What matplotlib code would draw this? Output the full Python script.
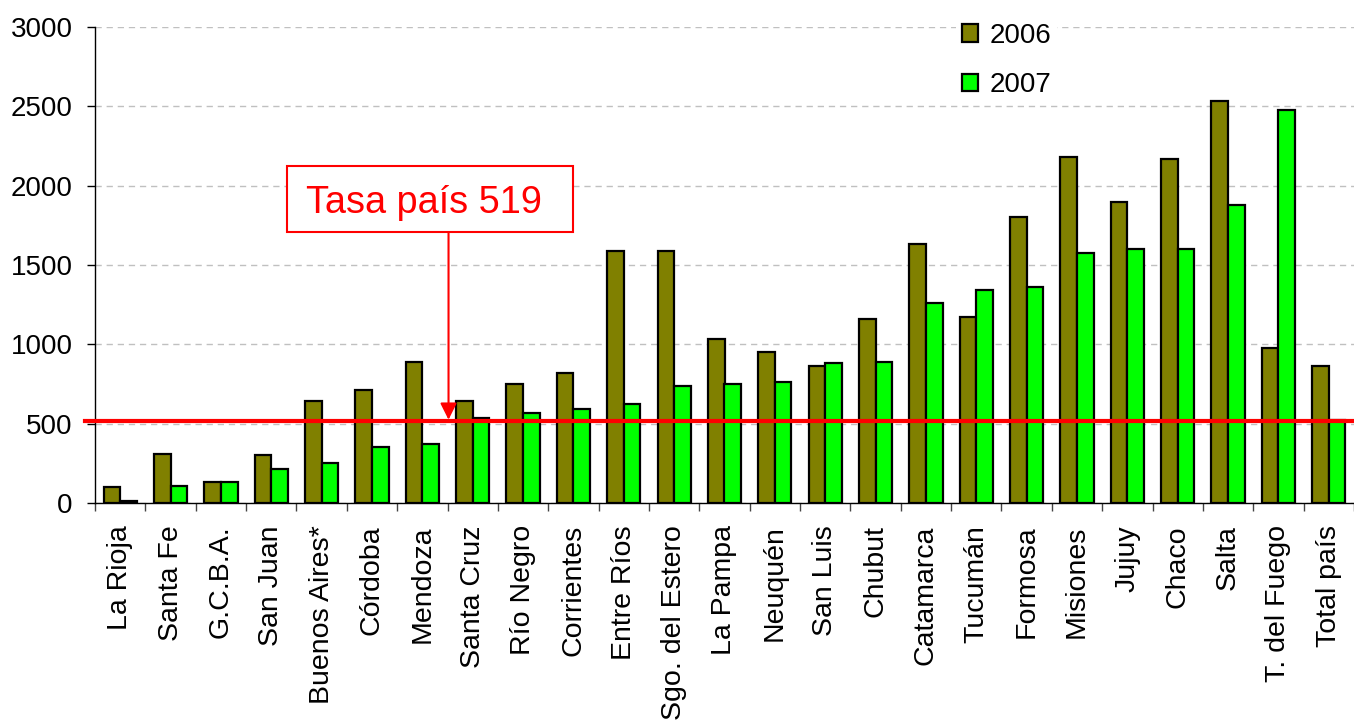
import matplotlib
matplotlib.use("Agg")
import matplotlib.pyplot as plt
import matplotlib.transforms as mtransforms
from matplotlib.patches import Rectangle
import numpy as np

plt.rcParams['font.family'] = ['Liberation Sans', 'DejaVu Sans']

provincias = ["La Rioja", "Santa Fe", "G.C.B.A.", "San Juan", "Buenos Aires*",
              "Córdoba", "Mendoza", "Santa Cruz", "Río Negro", "Corrientes",
              "Entre Ríos", "Sgo. del Estero", "La Pampa", "Neuquén", "San Luis",
              "Chubut", "Catamarca", "Tucumán", "Formosa", "Misiones", "Jujuy",
              "Chaco", "Salta", "T. del Fuego", "Total país"]
v2006 = [100, 310, 130, 300, 640, 710, 890, 640, 750, 820,
         1590, 1590, 1035, 950, 865, 1160, 1630, 1175, 1800, 2180,
         1900, 2170, 2535, 975, 865]
v2007 = [15, 110, 130, 215, 255, 355, 370, 535, 565, 595,
         625, 735, 750, 765, 880, 890, 1260, 1345, 1360, 1575,
         1600, 1600, 1880, 2480, 525]
tasa_pais = 519
series_labels = ["2006", "2007"]
yticks = [0, 500, 1000, 1500, 2000, 2500, 3000]

W, H = 1354, 724
fig = plt.figure(figsize=(W / 100, H / 100), dpi=100)
ax = fig.add_axes([95 / W, 1 - 503 / H, (W - 95) / W, (503 - 27) / H])

x = np.arange(len(provincias))
bw = 0.33
ax.bar(x - bw / 2, v2006, bw, color="#808000", edgecolor="black", linewidth=1.6,
       label=series_labels[0], zorder=3)
ax.bar(x + bw / 2, v2007, bw, color="#00FF00", edgecolor="black", linewidth=1.6,
       label=series_labels[1], zorder=3)

ax.set_xlim(-0.5, len(provincias) - 0.5)
ax.set_ylim(0, 3000)
ax.set_yticks(yticks)
ax.set_yticklabels([str(t) for t in yticks], fontsize=20)
ax.yaxis.grid(True, linestyle=(0, (4.5, 3.5)), color="#c0c0c0", linewidth=1, zorder=0)
ax.set_axisbelow(True)

ax.set_xticks(x)
ax.set_xticklabels(provincias, rotation=90, fontsize=20.5, va="top", ha="center")
ax.set_xticks(np.arange(-0.5, len(provincias), 1), minor=True)
ax.tick_params(axis="x", which="major", length=0, pad=16)
ax.tick_params(axis="x", which="minor", length=6, width=1, color="#444444")
ax.tick_params(axis="y", length=6, width=1, pad=10)

for s in ["top", "right"]:
    ax.spines[s].set_visible(False)
ax.spines["left"].set_linewidth(1)
ax.spines["bottom"].set_linewidth(1)

# reference line
trans = mtransforms.blended_transform_factory(ax.transAxes, ax.transData)
ax.plot([-10 / (W - 95), 1.0], [tasa_pais, tasa_pais], color="red", linewidth=3,
        transform=trans, clip_on=False, zorder=4)

# annotation box and arrow
arrow_x = 6.52
ax.annotate("", xy=(arrow_x, tasa_pais + 6), xytext=(arrow_x, 1700),
            arrowprops=dict(arrowstyle="-|>,head_length=0.5,head_width=0.25",
                            mutation_scale=20, color="red", linewidth=1.5,
                            shrinkA=0, shrinkB=0),
            zorder=5)
box_px = (287, 166, 573, 232)  # left, top, right, bottom in pixels
fig.patches.append(Rectangle((box_px[0] / W, 1 - box_px[3] / H),
                             (box_px[2] - box_px[0]) / W, (box_px[3] - box_px[1]) / H,
                             transform=fig.transFigure, facecolor="white",
                             edgecolor="red", linewidth=1.5, zorder=6))
fig.text(424 / W, 1 - (box_px[1] + box_px[3]) / 2 / H,
         "Tasa país 519", color="red", fontsize=27.3, ha="center", va="center_baseline",
         zorder=7)

leg = ax.legend(loc="upper left", bbox_to_anchor=((956 - 95) / (W - 95), (503 - 17) / 476),
                fontsize=20, frameon=True, framealpha=1, edgecolor="white",
                handlelength=0.6, handleheight=0.6, handletextpad=0.4,
                labelspacing=0.85, borderpad=0.2, borderaxespad=0)
leg.get_frame().set_linewidth(0)

fig.savefig("out.png", dpi=100)
